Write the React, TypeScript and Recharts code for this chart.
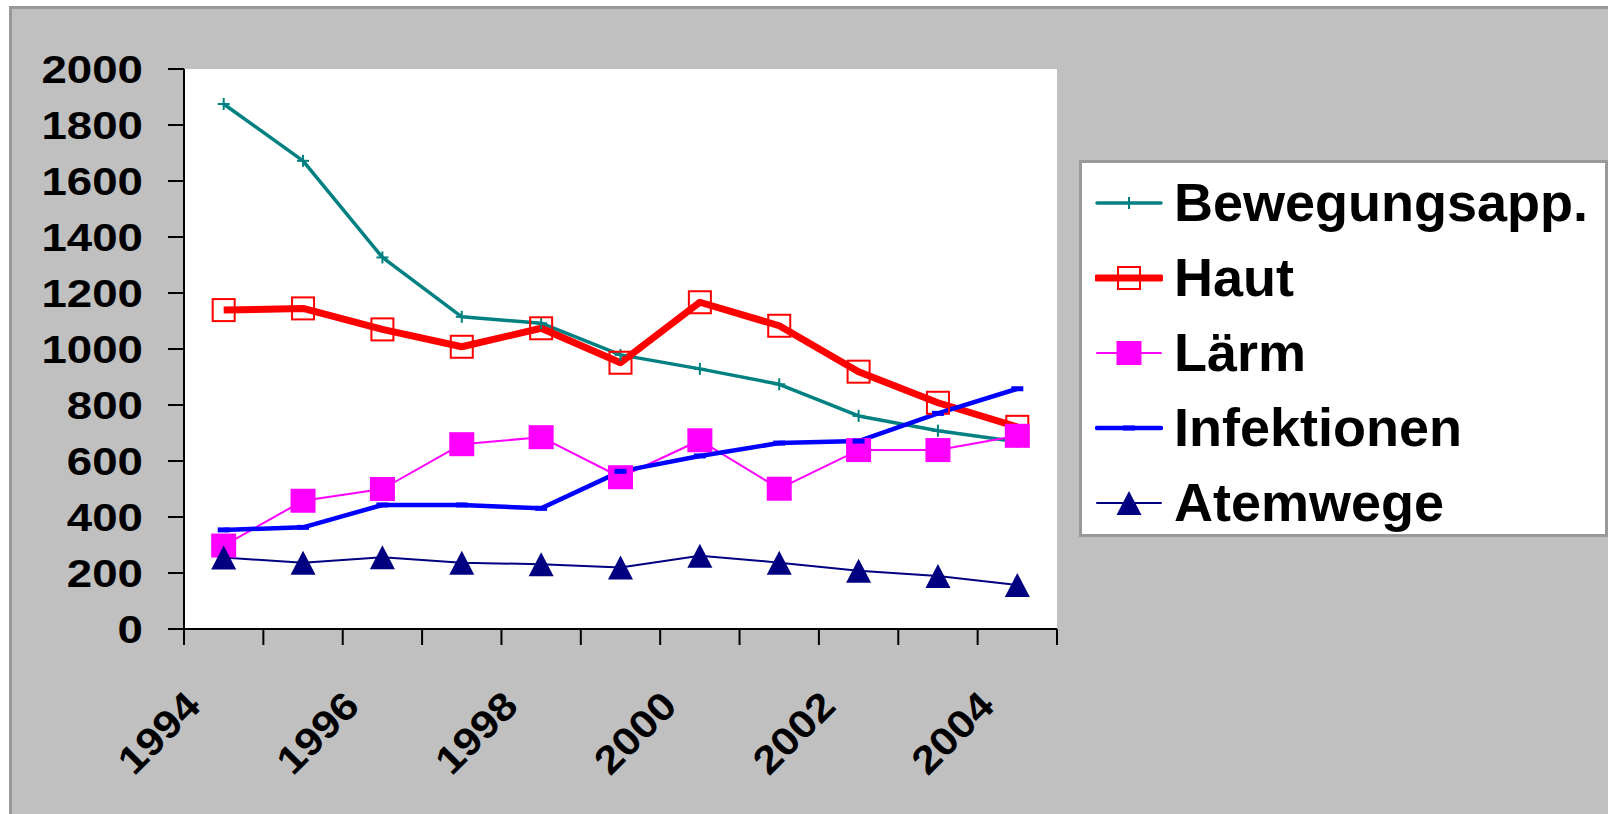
import React from 'react';
import { LineChart, Line, XAxis, YAxis, CartesianGrid, Legend } from 'recharts';

const years = ['1994', '1995', '1996', '1997', '1998', '1999', '2000', '2001', '2002', '2003', '2004'];
const bewegungsapp = [1875, 1672, 1327, 1115, 1092, 979, 929, 874, 761, 708, 669];
const haut = [1139, 1145, 1070, 1008, 1074, 951, 1167, 1083, 919, 808, 722];
const laerm = [298, 458, 500, 660, 685, 542, 674, 501, 639, 639, 690];
const infektionen = [354, 363, 443, 443, 431, 563, 618, 664, 671, 770, 858];
const atemwege = [255, 237, 256, 237, 231, 220, 262, 237, 208, 189, 157];
const yTicks = [0, 200, 400, 600, 800, 1000, 1200, 1400, 1600, 1800, 2000];

const data = years.map((year, i) => ({
  year,
  bewegungsapp: bewegungsapp[i],
  haut: haut[i],
  laerm: laerm[i],
  infektionen: infektionen[i],
  atemwege: atemwege[i],
}));

const FONT = '"Liberation Sans", Arial, Helvetica, sans-serif';
const WIDTH = 1608;
const HEIGHT = 814;
const PLOT_LEFT = 184;
const PLOT_RIGHT = 1057;
const BAND = (PLOT_RIGHT - PLOT_LEFT) / years.length;
// axis labels in the original are a bit wider than plain Arial
const Y_STRETCH = 1.17;
const X_STRETCH = 1.12;

type MarkerKind = 'plus' | 'hollowSquare' | 'square' | 'dash' | 'triangle';

function Marker({ kind, cx, cy, color }: { kind: MarkerKind; cx: number; cy: number; color: string }) {
  switch (kind) {
    case 'plus':
      return (
        <g stroke={color} strokeWidth={2}>
          <line x1={cx - 6} x2={cx + 6} y1={cy} y2={cy} />
          <line x1={cx} x2={cx} y1={cy - 6} y2={cy + 6} />
        </g>
      );
    case 'hollowSquare':
      return <rect x={cx - 11} y={cy - 11} width={22} height={22} fill="none" stroke={color} strokeWidth={2} />;
    case 'square':
      return <rect x={cx - 12.5} y={cy - 12} width={25} height={24} fill={color} />;
    case 'dash':
      return <rect x={cx - 6} y={cy - 2.5} width={12} height={5} fill={color} />;
    case 'triangle':
      return <path d={`M${cx},${cy - 12} L${cx + 12.5},${cy + 12} L${cx - 12.5},${cy + 12} Z`} fill={color} />;
  }
}

const series: { key: string; name: string; color: string; width: number; marker: MarkerKind }[] = [
  { key: 'bewegungsapp', name: 'Bewegungsapp.', color: '#008080', width: 3.5, marker: 'plus' },
  { key: 'haut', name: 'Haut', color: '#ff0000', width: 7, marker: 'hollowSquare' },
  { key: 'laerm', name: 'Lärm', color: '#ff00ff', width: 2, marker: 'square' },
  { key: 'infektionen', name: 'Infektionen', color: '#0000ff', width: 4.5, marker: 'dash' },
  { key: 'atemwege', name: 'Atemwege', color: '#000080', width: 2, marker: 'triangle' },
];

const YTick = (props: any) => {
  const { x, y, payload } = props;
  return (
    <g transform={`translate(${x},${y}) scale(${Y_STRETCH},1)`}>
      <text x={0} y={0} dy="0.36em" textAnchor="end" fontSize={39} fontWeight="bold" fontFamily={FONT} fill="#000">
        {payload.value}
      </text>
    </g>
  );
};

// tick marks sit between categories, labels only on every other year
const XTick = (props: any) => {
  const { x, y, payload, index } = props;
  const half = BAND / 2;
  return (
    <g>
      <line x1={x - half} x2={x - half} y1={y} y2={y + 16} stroke="#000" strokeWidth={2} />
      {index === years.length - 1 && <line x1={x + half} x2={x + half} y1={y} y2={y + 16} stroke="#000" strokeWidth={2} />}
      {index % 2 === 0 && (
        <g transform={`translate(${x - 21},${y + 79}) rotate(-45) scale(${X_STRETCH},1)`}>
          <text x={0} y={0} textAnchor="end" fontSize={39} fontWeight="bold" fontFamily={FONT} fill="#000">
            {payload.value}
          </text>
        </g>
      )}
    </g>
  );
};

const renderLegend = () => (
  <div
    style={{
      boxSizing: 'border-box',
      width: 529,
      height: 377,
      background: '#fff',
      border: '3px solid #999',
      paddingTop: 2,
      fontFamily: FONT,
      fontWeight: 'bold',
      fontSize: 54,
      color: '#000',
      textAlign: 'left',
    }}
  >
    {series.map((s) => (
      <div key={s.key} style={{ height: 75, display: 'flex', alignItems: 'center', whiteSpace: 'nowrap' }}>
        <svg width={68} height={40} style={{ marginLeft: 13, marginRight: 11, flex: 'none' }}>
          <line x1={2} x2={66} y1={20} y2={20} stroke={s.color} strokeWidth={s.width} strokeLinecap="round" />
          {s.marker === 'plus' ? (
            <line x1={34} x2={34} y1={14} y2={26} stroke={s.color} strokeWidth={2} />
          ) : (
            <Marker kind={s.marker} cx={34} cy={20} color={s.color} />
          )}
        </svg>
        <span style={{ lineHeight: '75px' }}>{s.name}</span>
      </div>
    ))}
  </div>
);

export default function App() {
  return (
    <div style={{ position: 'absolute', left: 0, top: 0, width: WIDTH, height: HEIGHT, overflow: 'hidden', background: '#fff' }}>
      <div
        style={{
          position: 'absolute',
          left: 9,
          top: 6,
          width: WIDTH + 40,
          height: HEIGHT + 40,
          boxSizing: 'border-box',
          background: '#c0c0c0',
          border: '3px solid #999',
        }}
      />
      <div style={{ position: 'absolute', left: 0, top: 0 }}>
        <LineChart
          width={WIDTH}
          height={HEIGHT}
          data={data}
          margin={{ top: 69, right: WIDTH - PLOT_RIGHT, bottom: 0, left: 0 }}
        >
          <CartesianGrid fill="#fff" horizontal={false} vertical={false} stroke="none" />
          <XAxis
            dataKey="year"
            scale="band"
            interval={0}
            height={185}
            tickSize={0}
            tickMargin={0}
            tickLine={false}
            axisLine={{ stroke: '#000', strokeWidth: 2 }}
            tick={<XTick />}
          />
          <XAxis
            xAxisId="top"
            dataKey="year"
            orientation="top"
            scale="band"
            height={0}
            tick={false}
            tickLine={false}
            axisLine={{ stroke: '#999', strokeWidth: 3 }}
          />
          <YAxis
            domain={[0, 2000]}
            ticks={yTicks}
            width={PLOT_LEFT}
            tickSize={16}
            tickMargin={25}
            interval={0}
            axisLine={{ stroke: '#000', strokeWidth: 2 }}
            tickLine={{ stroke: '#000', strokeWidth: 2 }}
            tick={<YTick />}
          />
          <YAxis
            yAxisId="r"
            orientation="right"
            domain={[0, 2000]}
            width={0}
            tick={false}
            tickLine={false}
            axisLine={{ stroke: '#999', strokeWidth: 3 }}
          />
          {series.map((s) => (
            <Line
              key={s.key}
              type="linear"
              dataKey={s.key}
              name={s.name}
              stroke={s.color}
              strokeWidth={s.width}
              strokeLinejoin="round"
              isAnimationActive={false}
              activeDot={false}
              dot={(p: any) => <Marker key={`${s.key}-${p.index}`} kind={s.marker} cx={p.cx} cy={p.cy} color={s.color} />}
            />
          ))}
          <Legend
            layout="horizontal"
            verticalAlign="middle"
            align="center"
            content={renderLegend}
            wrapperStyle={{ left: 1079, top: 160, right: 'auto', bottom: 'auto', width: 529, height: 377 }}
          />
        </LineChart>
      </div>
    </div>
  );
}
